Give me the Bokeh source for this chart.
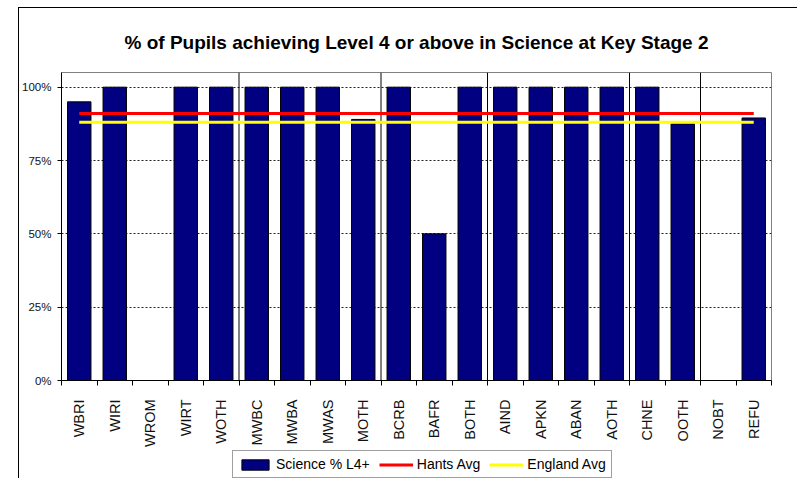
import math
from bokeh.plotting import figure
from bokeh.layouts import column
from bokeh.models import FixedTicker, Range1d, Legend, LegendItem, Title
from bokeh.embed import file_html
from bokeh.resources import INLINE

# ---- data ----
categories = ["WBRI", "WIRI", "WROM", "WIRT", "WOTH", "MWBC", "MWBA", "MWAS", "MOTH",
              "BCRB", "BAFR", "BOTH", "AIND", "APKN", "ABAN", "AOTH", "CHNE", "OOTH",
              "NOBT", "REFU"]
science_pct = [95, 100, None, 100, 100, 100, 100, 100, 89, 100, 50, 100, 100, 100,
               100, 100, 100, 87.5, None, 89.5]
hants_avg = 91
england_avg = 88
group_starts = ["MWBC", "BCRB", "AIND", "CHNE", "NOBT"]  # a separator line before each
y_ticks = [0, 25, 50, 75, 100]
title_text = "% of Pupils achieving Level 4 or above in Science at Key Stage 2"
series_names = ["Science % L4+", "Hants Avg", "England Avg"]

BAR_FILL = "#000080"
HANTS_COL = "#FF0000"
ENG_COL = "#FFFF00"

# ---- derived positions ----
n = len(categories)
centers = [i + 0.5 for i in range(n)]
bounds = [float(i) for i in range(n + 1)]
tops = [float("nan") if v is None else v for v in science_pct]
seps = [float(categories.index(c)) for c in group_starts]
Y_MAX = 105
W = 778
NAN = float("nan")

p = figure(width=W, height=442, output_backend="svg", toolbar_location=None,
           x_range=Range1d(0, n), y_range=Range1d(0, Y_MAX),
           min_border_left=42, min_border_right=26, min_border_top=64,
           min_border_bottom=67)
p.background_fill_color = "white"
p.border_fill_color = "white"
p.outline_line_color = "#808080"
p.outline_line_width = 1

t = Title(text=title_text, align="center", text_font="Liberation Sans",
          text_font_size="19px", text_font_style="bold", text_color="black",
          standoff=40)
p.add_layout(t, "above")

# grid
p.xgrid.grid_line_color = None
p.ygrid.ticker = FixedTicker(ticks=y_ticks[1:])
p.ygrid.grid_line_color = "#222222"
p.ygrid.grid_line_dash = "2 2"
p.ygrid.grid_line_width = 1

# bars
bars = p.vbar(x=centers, top=tops, width=0.66, bottom=0,
              fill_color=BAR_FILL, line_color="black", line_width=1)

# separators
p.segment(x0=seps, x1=seps, y0=[0] * len(seps), y1=[Y_MAX] * len(seps),
          line_color="black", line_width=1)

# average lines
hl = p.line(x=[centers[0], centers[-1]], y=[hants_avg, hants_avg],
            line_color=HANTS_COL, line_width=3)
el = p.line(x=[centers[0], centers[-1]], y=[england_avg, england_avg],
            line_color=ENG_COL, line_width=3)

# x axis
xa = p.xaxis[0]
xa.ticker = FixedTicker(ticks=centers, minor_ticks=bounds)
xa.major_label_overrides = {c: lab for c, lab in zip(centers, categories)}
xa.major_tick_out = 0
xa.major_tick_in = 0
xa.minor_tick_out = 5
xa.minor_tick_in = 0
xa.minor_tick_line_color = "black"
xa.axis_line_color = "black"
xa.major_label_orientation = math.pi / 2
xa.major_label_standoff = 14
xa.major_label_text_font = "Liberation Sans"
xa.major_label_text_font_size = "14.5px"
xa.major_label_text_color = "#111111"

# y axis
ya = p.yaxis[0]
ya.ticker = FixedTicker(ticks=y_ticks)
ya.major_label_overrides = {v: f"{v}%" for v in y_ticks}
ya.major_tick_out = 4
ya.major_tick_in = 0
ya.minor_tick_out = 0
ya.minor_tick_in = 0
ya.axis_line_color = "black"
ya.major_tick_line_color = "black"
ya.major_label_standoff = 6
ya.major_label_text_font = "Liberation Sans"
ya.major_label_text_font_size = "11.5px"
ya.major_label_text_color = "#111111"

# ---- legend strip (separate figure below the chart) ----
pl = figure(width=W, height=28, output_backend="svg", toolbar_location=None,
            x_axis_location=None, y_axis_location=None,
            x_range=Range1d(0, 1), y_range=Range1d(0, 1),
            min_border_left=0, min_border_right=0, min_border_top=0,
            min_border_bottom=0)
pl.outline_line_color = None
pl.xgrid.grid_line_color = None
pl.ygrid.grid_line_color = None
pl.background_fill_color = "white"
pl.border_fill_color = "white"
# legend-only renderers (one empty point each, nothing is drawn in the strip)
lb = pl.vbar(x=[NAN], top=[NAN], width=0.5, fill_color=BAR_FILL, line_color="black")
lh = pl.line(x=[NAN], y=[NAN], line_color=HANTS_COL, line_width=3)
le = pl.line(x=[NAN], y=[NAN], line_color=ENG_COL, line_width=3)

legend = Legend(items=[LegendItem(label=series_names[0], renderers=[lb]),
                       LegendItem(label=series_names[1], renderers=[lh]),
                       LegendItem(label=series_names[2], renderers=[le])],
                orientation="horizontal", location=(171, 0))
legend.label_text_font = "Liberation Sans"
legend.label_text_font_size = "14px"
legend.label_text_color = "black"
legend.glyph_width = 34
legend.glyph_height = 13
legend.label_standoff = 4
legend.label_height = 14
legend.spacing = 9
legend.padding = 5
legend.margin = 0
legend.border_line_color = "#404040"
legend.border_line_width = 1
legend.background_fill_color = "white"
legend.background_fill_alpha = 1
pl.add_layout(legend)

layout = column(p, pl, spacing=0)
layout.margin = (7, 0, 0, 18)
layout.styles = {"border-left": "1px solid black", "border-top": "1px solid black"}

open("out.html", "w").write(file_html(layout, INLINE))
